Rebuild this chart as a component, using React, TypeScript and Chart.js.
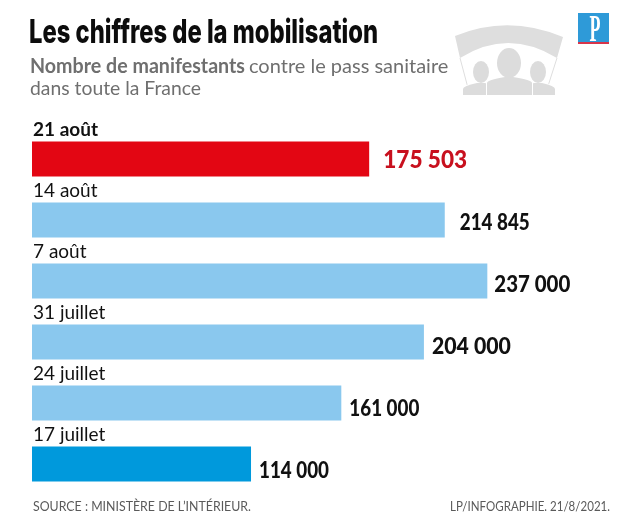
import React, { useEffect, useRef } from "react";
import { Chart, registerables } from "chart.js";

Chart.register(...registerables);

const categories = ["21 août", "14 août", "7 août", "31 juillet", "24 juillet", "17 juillet"];
const values = [175503, 214845, 237000, 204000, 161000, 114000];
const valueLabels = ["175 503", "214 845", "237 000", "204 000", "161 000", "114 000"];
const barColors = ["#e30613", "#8ac8ee", "#8ac8ee", "#8ac8ee", "#8ac8ee", "#0099dc"];
const labelColors = ["#c8101e", "#111111", "#111111", "#111111", "#111111", "#111111"];
const titleText = "Les chiffres de la mobilisation";
const subtitleBold = "Nombre de manifestants";
const subtitleRest = "contre le pass sanitaire";
const subtitleLine2 = "dans toute la France";
const sourceText = "SOURCE : MINISTÈRE DE L’INTÉRIEUR.";
const creditText = "LP/INFOGRAPHIE. 21/8/2021.";

const FONT = 'Lato, "Open Sans", sans-serif';
const labelGaps = [14, 15, 7, 8, 8, 8];
const labelWidths = [84, 70, 76, 79, 70, 70];

function drawIcon(ctx: CanvasRenderingContext2D) {
  ctx.save();
  ctx.fillStyle = "#dedede";
  ctx.beginPath();
  ctx.moveTo(455, 36);
  ctx.quadraticCurveTo(508, 14, 563, 37);
  ctx.lineTo(557, 58);
  ctx.quadraticCurveTo(508, 28, 460, 58);
  ctx.closePath();
  ctx.fill();
  ctx.strokeStyle = "#dedede";
  ctx.lineWidth = 1;
  ctx.beginPath();
  ctx.moveTo(460, 58);
  ctx.lineTo(468, 88);
  ctx.moveTo(557, 58);
  ctx.lineTo(548, 86);
  ctx.stroke();
  ctx.fillStyle = "#dcdcdc";
  const people: [number, number, number, number, number, number, number][] = [
    [481, 72, 8, 11, 463, 494, 86],
    [538, 72, 8, 11, 524, 555, 86],
    [509, 63, 12, 15, 487, 532, 80],
  ];
  for (const [cx, cy, rx, ry, x0, x1, yb] of people) {
    ctx.strokeStyle = "#ffffff";
    ctx.lineWidth = 2;
    ctx.beginPath();
    ctx.moveTo(x0, 95);
    ctx.lineTo(x0, yb + 3);
    ctx.quadraticCurveTo(x0, yb, cx - 4, yb - 3);
    ctx.lineTo(cx + 4, yb - 3);
    ctx.quadraticCurveTo(x1, yb, x1, yb + 3);
    ctx.lineTo(x1, 95);
    ctx.closePath();
    ctx.stroke();
    ctx.fill();
    ctx.beginPath();
    ctx.ellipse(cx, cy, rx, ry, 0, 0, Math.PI * 2);
    ctx.fill();
  }
  ctx.restore();
}

function drawLogo(ctx: CanvasRenderingContext2D) {
  ctx.save();
  ctx.fillStyle = "#2e9ad8";
  ctx.fillRect(578, 13, 31, 29);
  ctx.fillStyle = "#d8354a";
  ctx.fillRect(578, 42, 31, 2);
  ctx.fillStyle = "#ffffff";
  ctx.font = `bold 38px "Liberation Serif", serif`;
  ctx.textBaseline = "alphabetic";
  ctx.textAlign = "center";
  ctx.fillText("P", 595, 41, 11);
  ctx.restore();
}

const overlay = {
  id: "overlay",
  afterDatasetsDraw(chart: Chart) {
    const ctx = chart.ctx;
    ctx.save();
    ctx.textBaseline = "alphabetic";
    ctx.textAlign = "left";

    ctx.fillStyle = "#0c0c0c";
    ctx.font = `800 33px Inter, Roboto, sans-serif`;
    ctx.fillText(titleText, 29, 43, 349);

    ctx.fillStyle = "#6f6f6f";
    ctx.font = `bold 20px ${FONT}`;
    ctx.fillText(subtitleBold, 30, 73, 215);
    ctx.font = `20px ${FONT}`;
    ctx.fillText(subtitleRest, 249, 73, 202);
    ctx.fillText(subtitleLine2, 30, 95, 171);

    const meta = chart.getDatasetMeta(0);
    meta.data.forEach((bar: any, i: number) => {
      const top = bar.y - bar.height / 2;
      ctx.fillStyle = "#111111";
      ctx.font = `${i === 0 ? "bold " : ""}19px ${FONT}`;
      ctx.fillText(categories[i], 33, top - 6);

      const big = i === 0;
      ctx.fillStyle = labelColors[i];
      ctx.font = `900 ${big ? 25 : 22}px ${FONT}`;
      ctx.fillText(valueLabels[i], bar.x + labelGaps[i], bar.y + 9 + i * 0.9, labelWidths[i]);
    });

    ctx.fillStyle = "#5a5a5a";
    ctx.font = `14px ${FONT}`;
    ctx.fillText(sourceText, 33, 511, 218);
    ctx.textAlign = "right";
    ctx.fillText(creditText, 610, 511, 160);

    drawIcon(ctx);
    drawLogo(ctx);
    ctx.restore();
  },
};

export default function App() {
  const ref = useRef<HTMLCanvasElement>(null);
  useEffect(() => {
    document.body.style.margin = "0";
    document.body.style.background = "#fff";
    const chart = new Chart(ref.current!, {
      type: "bar",
      data: {
        labels: categories,
        datasets: [
          {
            data: values,
            backgroundColor: barColors,
            barPercentage: 0.57,
            categoryPercentage: 1,
          },
        ],
      },
      options: {
        indexAxis: "y",
        animation: false,
        responsive: false,
        maintainAspectRatio: false,
        devicePixelRatio: 1,
        layout: { padding: { left: 32, right: 0, top: 128.5, bottom: 29.5 } },
        plugins: { legend: { display: false }, title: { display: false }, tooltip: { enabled: false } },
        scales: {
          x: { display: false, min: 0, max: 307100 },
          y: { display: false },
        },
      },
      plugins: [overlay],
    });
    return () => chart.destroy();
  }, []);
  return <canvas ref={ref} width={622} height={524} style={{ display: "block" }} />;
}
